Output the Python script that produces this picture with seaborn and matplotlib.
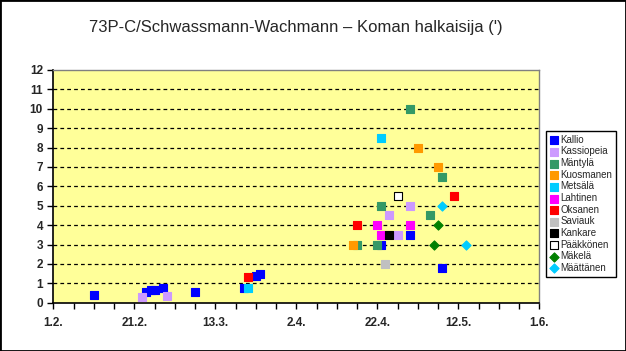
import pandas as pd
import matplotlib
matplotlib.use("Agg")
import matplotlib.pyplot as plt
from matplotlib.patches import Rectangle
import seaborn as sns

# Havainnot: päivämäärä (2006) ja koman halkaisija (')
kallio_dates = ["2006-02-11", "2006-02-24", "2006-02-25", "2006-02-26", "2006-02-28",
                "2006-03-08", "2006-03-20", "2006-03-23", "2006-03-24", "2006-04-23",
                "2006-04-30", "2006-05-08"]
kallio_vals = [0.4, 0.55, 0.65, 0.65, 0.75, 0.55, 0.75, 1.4, 1.5, 3.0, 3.5, 1.8]

kassiopeia_dates = ["2006-02-23", "2006-03-01", "2006-04-25", "2006-04-27", "2006-04-30"]
kassiopeia_vals = [0.3, 0.35, 4.5, 3.5, 5.0]

mantyla_dates = ["2006-04-17", "2006-04-22", "2006-04-23", "2006-04-30", "2006-05-05", "2006-05-08"]
mantyla_vals = [3.0, 3.0, 5.0, 10.0, 4.5, 6.5]

kuosmanen_dates = ["2006-04-16", "2006-05-02", "2006-05-07"]
kuosmanen_vals = [3.0, 8.0, 7.0]

metsala_dates = ["2006-03-21", "2006-04-23"]
metsala_vals = [0.75, 8.5]

lahtinen_dates = ["2006-04-22", "2006-04-23", "2006-04-30"]
lahtinen_vals = [4.0, 3.5, 4.0]

oksanen_dates = ["2006-03-21", "2006-04-17", "2006-05-11"]
oksanen_vals = [1.3, 4.0, 5.5]

saviauk_dates = ["2006-04-24"]
saviauk_vals = [2.0]

kankare_dates = ["2006-04-25"]
kankare_vals = [3.5]

paakkonen_dates = ["2006-04-27"]
paakkonen_vals = [5.5]

makela_dates = ["2006-05-06", "2006-05-07"]
makela_vals = [3.0, 4.0]

maattanen_dates = ["2006-05-08", "2006-05-14"]
maattanen_vals = [5.0, 3.0]

observers = ["Kallio", "Kassiopeia", "Mäntylä", "Kuosmanen", "Metsälä", "Lahtinen",
             "Oksanen", "Saviauk", "Kankare", "Pääkkönen", "Mäkelä", "Määttänen"]
colors = ["#0000FF", "#CC99FF", "#339966", "#FF9900", "#00CCFF", "#FF00FF",
          "#FF0000", "#C0C0C0", "#000000", "#FFFFFF", "#008000", "#00CCFF"]
markers = ["s"] * 10 + ["D", "D"]

series = [(kallio_dates, kallio_vals), (kassiopeia_dates, kassiopeia_vals),
          (mantyla_dates, mantyla_vals), (kuosmanen_dates, kuosmanen_vals),
          (metsala_dates, metsala_vals), (lahtinen_dates, lahtinen_vals),
          (oksanen_dates, oksanen_vals), (saviauk_dates, saviauk_vals),
          (kankare_dates, kankare_vals), (paakkonen_dates, paakkonen_vals),
          (makela_dates, makela_vals), (maattanen_dates, maattanen_vals)]

rows = []
for name, (dates, vals) in zip(observers, series):
    for d, v in zip(dates, vals):
        rows.append({"havaitsija": name, "pvm": pd.Timestamp(d), "halkaisija": v})
df = pd.DataFrame(rows)

sns.set_style("ticks")
plt.rcParams["font.family"] = ["Liberation Sans", "DejaVu Sans"]

fig = plt.figure(figsize=(6.26, 3.51), dpi=100)
ax = fig.add_axes([0.0852, 0.1376, 0.7763, 0.663])
ax.set_facecolor("#FFFF99")

for y in range(1, 12):
    ax.axhline(y, color="black", lw=0.9, ls=(0, (3, 2.5)), zorder=1)

for name, col, mk in zip(observers, colors, markers):
    sub = df[df["havaitsija"] == name]
    edge = "black" if name == "Pääkkönen" else col
    size = 26 if mk == "s" else 22
    sns.scatterplot(data=sub, x="pvm", y="halkaisija", ax=ax, color=col, marker=mk,
                    s=size, edgecolor=edge, linewidth=0.8, label=name, zorder=3)

handles, labels = ax.get_legend_handles_labels()
if ax.get_legend() is not None:
    ax.get_legend().remove()

# akselit
ax.set_xlim(pd.Timestamp("2006-02-01"), pd.Timestamp("2006-06-01"))
ax.set_ylim(0, 12)
major = pd.date_range("2006-02-01", "2006-06-01", freq="20D")
minor = pd.date_range("2006-02-01", "2006-06-01", freq="5D")
ax.set_xticks(major)
ax.set_xticklabels([f"{d.day}.{d.month}." for d in major])
ax.set_xticks(minor, minor=True)
ax.set_yticks(range(13))
ax.tick_params(axis="both", which="both", direction="out", length=4, width=1,
               color="black", labelsize=8.5)
ax.tick_params(axis="x", pad=6)
for lab in ax.get_xticklabels() + ax.get_yticklabels():
    lab.set_fontweight("bold")
ax.set_xlabel("")
ax.set_ylabel("")

for side in ["left", "bottom"]:
    ax.spines[side].set_color("black")
    ax.spines[side].set_linewidth(1.2)
for side in ["top", "right"]:
    ax.spines[side].set_visible(True)
    ax.spines[side].set_color("#808080")
    ax.spines[side].set_linewidth(1)

fig.text(0.473, 0.922, "73P-C/Schwassmann-Wachmann – Koman halkaisija (')",
         ha="center", va="center", fontsize=12)

leg = fig.legend(handles, labels, loc="upper left", bbox_to_anchor=(0.872, 0.627),
                 borderaxespad=0, fontsize=7, frameon=True, fancybox=False,
                 framealpha=1, edgecolor="black", handlelength=0.8,
                 handletextpad=0.3, labelspacing=0.17, borderpad=0.4,
                 markerscale=1.0)
leg.get_frame().set_linewidth(1)

fig.add_artist(Rectangle((0, 0), 1, 1, transform=fig.transFigure, fill=False,
                         edgecolor="black", lw=2))

fig.savefig("out.png", dpi=100)
